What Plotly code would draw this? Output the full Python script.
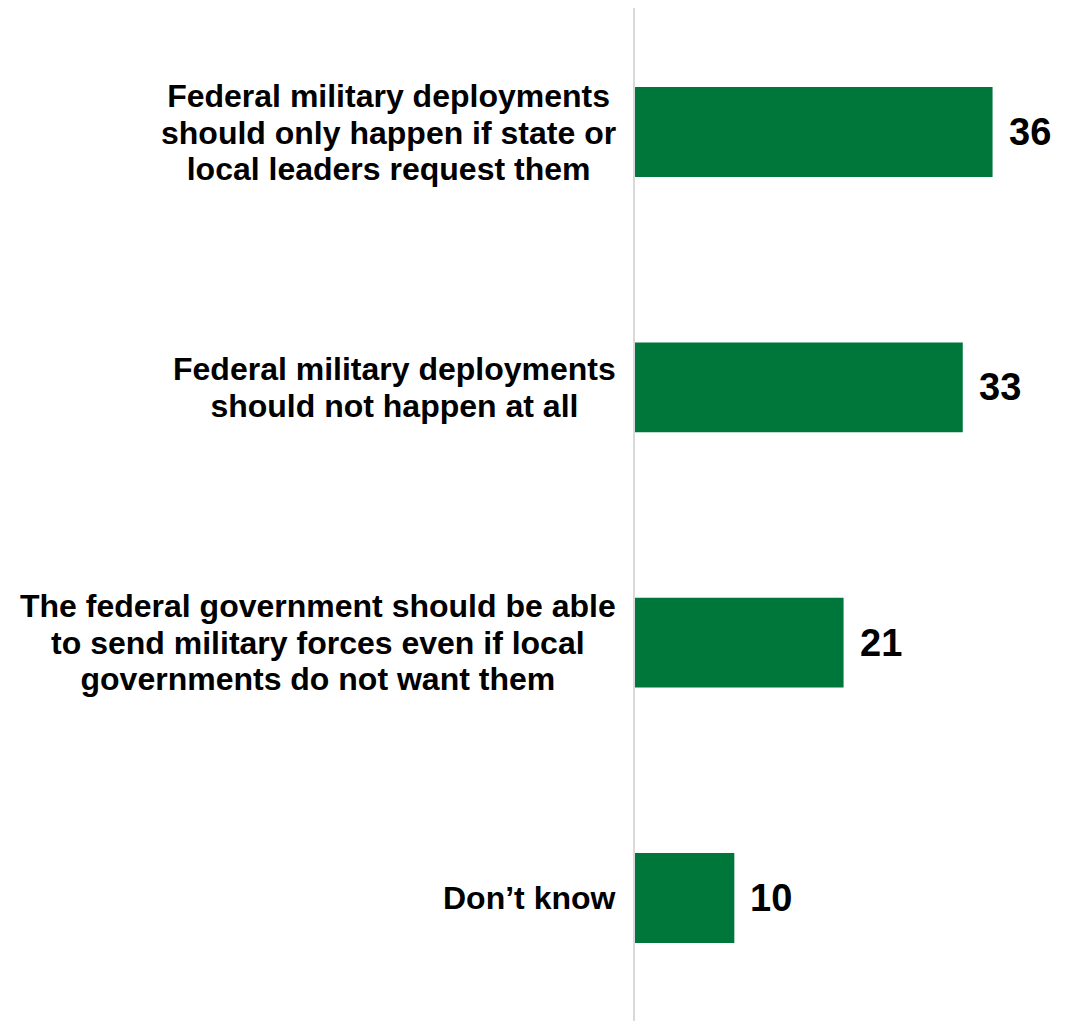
import plotly.graph_objects as go

categories = [
    ["Federal military deployments", "should only happen if state or", "local leaders request them"],
    ["Federal military deployments", "should not happen at all"],
    ["The federal government should be able", "to send military forces even if local", "governments do not want them"],
    ["Don’t know"],
]
values = [36, 33, 21, 10]

BAR_COLOR = "#00773A"
FONT = "Liberation Sans, Arial, sans-serif"

ypos = list(range(len(categories)))

fig = go.Figure()
fig.add_trace(go.Bar(
    x=values,
    y=ypos,
    orientation="h",
    width=0.352,
    marker=dict(color=BAR_COLOR, line=dict(width=0)),
    hoverinfo="skip",
))

annotations = []
for yi, lines, v in zip(ypos, categories, values):
    txt = "<br>".join(f'<span style="font-size:32px"><b>{ln}</b></span>' for ln in lines)
    annotations.append(dict(
        x=0, xref="paper", y=yi, yref="y",
        text=txt, showarrow=False,
        xanchor="right", yanchor="middle", align="center",
        xshift=-17,
        font=dict(family=FONT, size=28.2, color="#000000"),
    ))
    annotations.append(dict(
        x=v, xref="x", y=yi, yref="y",
        text=f"<b>{v}</b>", showarrow=False,
        xanchor="left", yanchor="middle",
        xshift=14,
        font=dict(family=FONT, size=38, color="#000000"),
    ))

fig.update_layout(
    width=1069, height=1013,
    margin=dict(l=627, r=0, t=0, b=0),
    paper_bgcolor="white", plot_bgcolor="white",
    showlegend=False,
    annotations=annotations,
    xaxis=dict(range=[0, 44.5], visible=False, fixedrange=True),
    yaxis=dict(range=[3.4817, -0.4857], showticklabels=False, ticks="",
               showgrid=False, zeroline=False,
               showline=True, linecolor="#d9d9d9", linewidth=2,
               fixedrange=True),
)

fig.write_html("out.html")
